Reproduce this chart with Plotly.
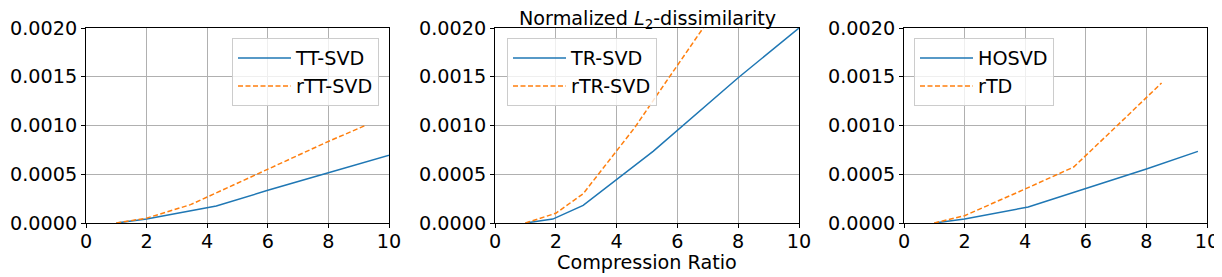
import plotly.graph_objects as go

# Panel 1: TT
tt_x = [1, 2, 4.3, 6, 8, 10, 10.5]
tt_y = [0, 0.00004, 0.000175, 0.000335, 0.000515, 0.000695, 0.00074]
rtt_x = [1, 2, 3.45, 4.0, 6, 7.93, 9.2]
rtt_y = [0, 0.00005, 0.000188, 0.000267, 0.000547, 0.000827, 0.000998]

# Panel 2: TR
tr_x = [1, 1.9, 2.9, 5.2, 8, 10]
tr_y = [0, 0.00004, 0.00018, 0.000735, 0.00149, 0.002]
rtr_x = [1, 2, 2.9, 4.6, 5.3, 6.1, 7.2]
rtr_y = [0, 0.0001, 0.0003, 0.00098, 0.0013, 0.00166, 0.00216]

# Panel 3: Tucker
ho_x = [1, 2, 4.1, 6, 8, 9.7]
ho_y = [0, 0.000041, 0.000164, 0.000356, 0.000554, 0.000735]
rtd_x = [1, 2, 4, 5.6, 7.07, 8, 8.5]
rtd_y = [0, 0.000075, 0.000349, 0.000574, 0.001009, 0.00128, 0.001436]

xticks = [0, 2, 4, 6, 8, 10]
yticks = [0, 0.0005, 0.001, 0.0015, 0.002]

panels = [
    ("TT-SVD", tt_x, tt_y, "rTT-SVD", rtt_x, rtt_y),
    ("TR-SVD", tr_x, tr_y, "rTR-SVD", rtr_x, rtr_y),
    ("HOSVD", ho_x, ho_y, "rTD", rtd_x, rtd_y),
]

# page body has an 8px margin; work in page pixels and shift
OFF = 8
W, H = 1222 - OFF, 277 - OFF


def px(x):
    return (x - OFF) / W


def py(y):
    return (H - (y - OFF)) / H


xdoms = [(86, 389), (495, 799), (904, 1207)]
ytop, ybot = 28, 223
FONT = "DejaVu Sans"
FS = 19.2
BLUE = "#1f77b4"
ORANGE = "#ff7f0e"

fig = go.Figure()
legend_names = ["legend", "legend2", "legend3"]
for i, (n1, x1, y1, n2, x2, y2) in enumerate(panels):
    ax = "" if i == 0 else str(i + 1)
    fig.add_trace(go.Scatter(x=x1, y=y1, name=n1, mode="lines",
                             line=dict(color=BLUE, width=1.5),
                             xaxis="x" + ax, yaxis="y" + ax,
                             legend=legend_names[i], legendgroup=f"a{i}"))
    fig.add_trace(go.Scatter(x=x2, y=y2, name=n2, mode="lines",
                             line=dict(color=ORANGE, width=1.5, dash="5px,2.5px"),
                             xaxis="x" + ax, yaxis="y" + ax,
                             legend=legend_names[i], legendgroup=f"b{i}"))

layout = dict(
    width=W, height=H,
    margin=dict(l=0, r=0, t=0, b=0, autoexpand=False),
    paper_bgcolor="white", plot_bgcolor="white",
    font=dict(family=FONT, size=FS, color="black"),
    showlegend=True,
)
axis_common = dict(showline=True, linecolor="black", linewidth=1, mirror=True,
                   ticks="outside", ticklen=4, tickcolor="black",
                   showgrid=True, gridcolor="#b0b0b0", gridwidth=0.8,
                   zeroline=False, automargin=False,
                   tickfont=dict(family=FONT, size=FS))
for i, (a, b) in enumerate(xdoms):
    ax = "" if i == 0 else str(i + 1)
    layout["xaxis" + ax] = dict(axis_common, domain=[px(a), px(b)], range=[0, 10],
                                tickvals=xticks, anchor="y" + ax, ticklabelstandoff=-3)
    layout["yaxis" + ax] = dict(axis_common, domain=[py(ybot), py(ytop)],
                                range=[0, 0.002], tickvals=yticks, tickformat=".4f",
                                anchor="x" + ax)

leg_common = dict(bgcolor="rgba(255,255,255,0.8)", bordercolor="#cccccc", borderwidth=1,
                  font=dict(family=FONT, size=FS), yanchor="top", y=py(38),
                  tracegroupgap=0, itemwidth=53, traceorder="grouped")
layout["legend"] = dict(leg_common, x=px(379), xanchor="right")
layout["legend2"] = dict(leg_common, x=px(507), xanchor="left")
layout["legend3"] = dict(leg_common, x=px(914), xanchor="left")

layout["annotations"] = [
    dict(text="Normalized <i>L</i><sub>2</sub>-dissimilarity", x=px(647), y=py(19),
         xref="paper", yref="paper", showarrow=False, xanchor="center", yanchor="middle",
         font=dict(family=FONT, size=FS)),
    dict(text="Compression Ratio", x=px(647), y=py(262),
         xref="paper", yref="paper", showarrow=False, xanchor="center", yanchor="middle",
         font=dict(family=FONT, size=FS)),
]
fig.update_layout(**layout)
fig.write_html("out.html")
